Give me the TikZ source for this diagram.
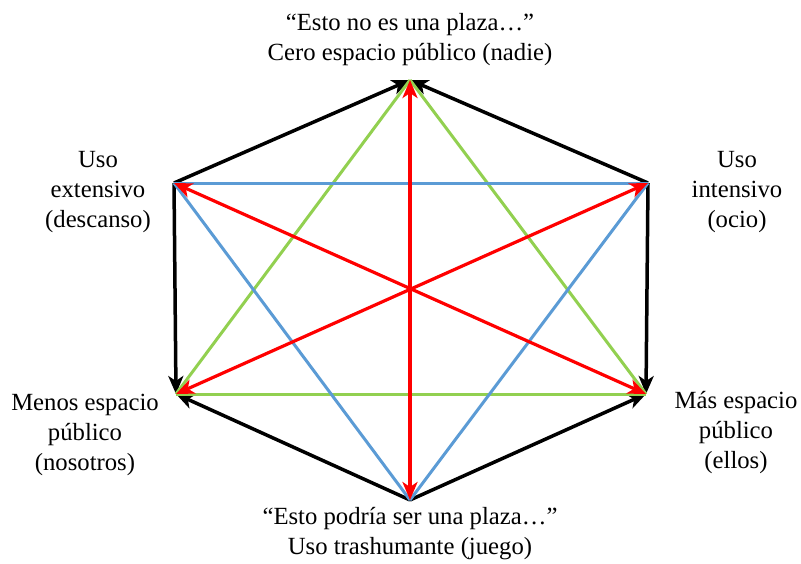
\documentclass[tikz,border=0pt]{standalone}
\usepackage{fontspec}
\setmainfont{Liberation Serif}
\usetikzlibrary{arrows.meta}
\definecolor{hexgreen}{RGB}{146,208,80}
\definecolor{hexblue}{RGB}{91,155,213}
\definecolor{hexred}{RGB}{255,0,0}
\begin{document}
\begin{tikzpicture}[x=1pt,y=-1pt,
  lbl/.style={align=center,font=\fontsize{24.7}{30}\selectfont,inner sep=0pt},
  blk/.style={draw=black,line width=3.5pt,-{Stealth[length=18pt,width=15pt,inset=5pt]}},
  grn/.style={draw=hexgreen,line width=3pt},
  blu/.style={draw=hexblue,line width=3pt},
  redarr/.style={draw=hexred,line width=3.2pt,{Stealth[length=18pt,width=15pt,inset=5pt]}-{Stealth[length=18pt,width=15pt,inset=5pt]}}
]
\useasboundingbox (0,0) rectangle (801,563);
% vertices
\coordinate (T) at (410,80);
\coordinate (UL) at (174,183);
\coordinate (UR) at (648,183);
\coordinate (LL) at (176,394);
\coordinate (LR) at (646,394);
\coordinate (B) at (410,500);
% labels
\node[lbl] (lt) at (410,40) {“Esto no es una plaza…”\\Cero espacio público (nadie)};
\node[lbl] (lul) at (98,192) {Uso\\extensivo\\(descanso)};
\node[lbl] (lur) at (737,192) {Uso\\intensivo\\(ocio)};
\node[lbl] (lll) at (85,435) {Menos espacio\\público\\(nosotros)};
\node[lbl] (llr) at (736,433) {Más espacio\\público\\(ellos)};
\node[lbl] (lb) at (410,534) {“Esto podría ser una plaza…”\\Uso trashumante (juego)};
% black hexagon
\draw[blk] (UL) -- (T);
\draw[blk] (UR) -- (T);
\draw[blk] (UL) -- (LL);
\draw[blk] (UR) -- (LR);
\draw[blk] (B) -- (LL);
\draw[blk] (B) -- (LR);
% green triangle
\draw[grn] (T) -- (LL);
\draw[grn] (T) -- (LR);
\draw[grn] (LL) -- (LR);
% blue triangle
\draw[blu] (UL) -- (UR);
\draw[blu] (UL) -- (B);
\draw[blu] (UR) -- (B);
% red double arrows
\draw[redarr] (B) -- (T);
\draw[redarr] (LR) -- (UL);
\draw[redarr] (LL) -- (UR);
\end{tikzpicture}
\end{document}
